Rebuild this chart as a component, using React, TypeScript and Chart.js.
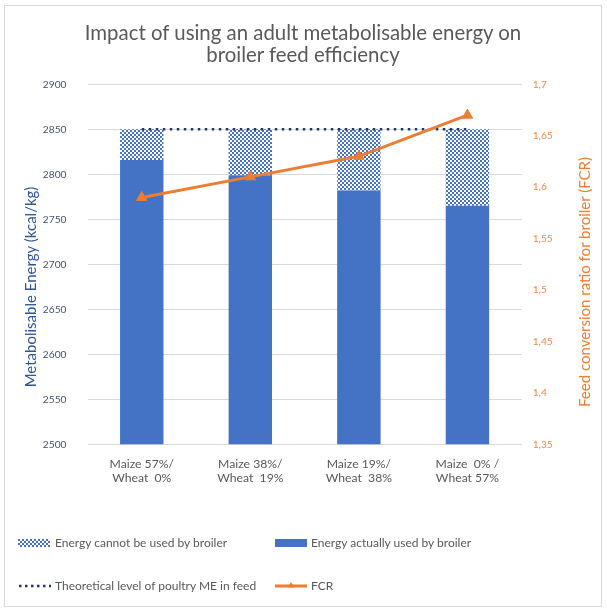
import React, { useEffect, useRef } from "react";
import { Chart, registerables } from "chart.js";

Chart.register(...registerables);

const categories = [
  ["Maize 57%/", "Wheat  0%"],
  ["Maize 38%/", "Wheat  19%"],
  ["Maize 19%/", "Wheat  38%"],
  ["Maize  0% /", "Wheat 57%"],
];
const energyUsed = [2816, 2799, 2782, 2765];
const energyLost = [34, 51, 68, 85];
const theoreticalME = [2850, 2850, 2850, 2850];
const fcr = [1.59, 1.61, 1.63, 1.67];

const titleLines = ["Impact of using an adult metabolisable energy on", "broiler feed efficiency"];
const leftAxisTitle = "Metabolisable Energy (kcal/kg)";
const rightAxisTitle = "Feed conversion ratio for broiler (FCR)";
const legendLabels = [
  "Energy cannot be used by broiler",
  "Energy actually used by broiler",
  "Theoretical level of poultry ME in feed",
  "FCR",
];

const FONT = "Lato, 'Noto Sans', sans-serif";
const BLUE = "#4472C4";
const ORANGE = "#ED7D31";
const NAVY = "#203864";
const GREY_TEXT = "#595959";

function makePattern(): CanvasPattern | string {
  const c = document.createElement("canvas");
  c.width = 4;
  c.height = 4;
  const ctx = c.getContext("2d");
  if (!ctx) return "#9fb3d9";
  ctx.fillStyle = "#ffffff";
  ctx.fillRect(0, 0, 4, 4);
  ctx.fillStyle = BLUE;
  ctx.fillRect(0, 0, 2, 2);
  ctx.fillRect(2, 2, 2, 2);
  const p = ctx.createPattern(c, "repeat");
  return p || "#9fb3d9";
}

export default function App() {
  const ref = useRef<HTMLCanvasElement | null>(null);

  useEffect(() => {
    if (!ref.current) return;
    Chart.defaults.font.family = FONT;
    const pattern = makePattern();
    const chart = new Chart(ref.current, {
      type: "bar",
      data: {
        labels: categories,
        datasets: [
          {
            type: "bar",
            label: legendLabels[1],
            data: energyUsed,
            backgroundColor: BLUE,
            yAxisID: "y",
            stack: "energy",
            order: 2,
            categoryPercentage: 1,
            barPercentage: 0.4,
          },
          {
            type: "bar",
            label: legendLabels[0],
            data: energyLost,
            backgroundColor: pattern as any,
            yAxisID: "y",
            stack: "energy",
            order: 2,
            categoryPercentage: 1,
            barPercentage: 0.4,
          },
          {
            type: "line",
            label: legendLabels[2],
            data: theoreticalME,
            borderColor: NAVY,
            borderWidth: 2.5,
            borderDash: [2.5, 4.5],
            pointRadius: 0,
            yAxisID: "y",
            stack: "theory",
            order: 1,
          } as any,
          {
            type: "line",
            label: legendLabels[3],
            data: fcr,
            borderColor: ORANGE,
            backgroundColor: ORANGE,
            borderWidth: 3,
            pointStyle: "triangle",
            pointRadius: 6,
            pointBorderWidth: 1,
            yAxisID: "y1",
            order: 0,
          } as any,
        ],
      },
      options: {
        animation: false,
        responsive: false,
        maintainAspectRatio: false,
        layout: { padding: { top: 84.3, left: 0, right: 0, bottom: 0 } },
        plugins: {
          legend: { display: false },
          tooltip: { enabled: false },
          title: { display: false },
        },
        scales: {
          x: {
            stacked: true,
            offset: true,
            grid: { display: false },
            border: { display: false },
            ticks: {
              color: GREY_TEXT,
              font: { size: 12.2, family: FONT },
              padding: 4,
              maxRotation: 0,
              autoSkip: false,
            },
            afterFit: (s: any) => {
              s.height = 611 - 444.3;
            },
          },
          y: {
            position: "left",
            stacked: true,
            min: 2500,
            max: 2900,
            border: { display: false },
            grid: { color: "#D9D9D9", drawTicks: false, lineWidth: 1 },
            ticks: {
              stepSize: 50,
              color: "#44546A",
              font: { size: 10.2, family: FONT },
              padding: 21,
              callback: (v: any) => String(v),
            },
            afterFit: (s: any) => {
              s.width = 87.5;
            },
          },
          y1: {
            position: "right",
            stacked: false,
            min: 1.35,
            max: 1.7,
            border: { display: false },
            grid: { display: false, drawTicks: false },
            ticks: {
              stepSize: 0.05,
              color: "#E8894A",
              font: { size: 10.2, family: FONT },
              padding: 11,
              callback: (v: any) => String(Number(Number(v).toFixed(2))).replace(".", ","),
            },
            afterFit: (s: any) => {
              s.width = 607 - 521.7;
            },
          },
        },
      } as any,
    });
    return () => chart.destroy();
  }, []);

  const legendText: React.CSSProperties = {
    position: "absolute",
    fontFamily: FONT,
    fontSize: 12,
    color: GREY_TEXT,
    lineHeight: "16px",
    whiteSpace: "pre",
  };

  const axisTitle = (cx: number, cy: number, color: string, text: string) => (
    <div
      style={{
        position: "absolute",
        left: cx,
        top: cy,
        transform: "translate(-50%, -50%) rotate(-90deg)",
        whiteSpace: "nowrap",
        fontFamily: FONT,
        fontSize: 15,
        lineHeight: "18px",
        color,
      }}
    >
      {text}
    </div>
  );

  return (
    <div
      style={{
        position: "absolute",
        left: 0,
        top: 0,
        width: 607,
        height: 611,
        background: "#ffffff",
        overflow: "hidden",
      }}
    >
      <div
        style={{
          position: "absolute",
          left: 4,
          top: 5,
          width: 596,
          height: 600,
          border: "1px solid #D9D9D9",
        }}
      />
      <canvas ref={ref} width={607} height={611} style={{ position: "absolute", left: 0, top: 0, width: 607, height: 611 }} />
      <div
        style={{
          position: "absolute",
          left: 4,
          width: 598,
          top: 21,
          textAlign: "center",
          fontFamily: FONT,
          fontSize: 20.4,
          lineHeight: "22px",
          color: GREY_TEXT,
        }}
      >
        <div>{titleLines[0]}</div>
        <div>{titleLines[1]}</div>
      </div>

      {axisTitle(30, 287, "#2F5597", leftAxisTitle)}
      {axisTitle(584, 282, ORANGE, rightAxisTitle)}

      {/* legend row 1 */}
      <svg style={{ position: "absolute", left: 18, top: 539 }} width={32} height={8}>
        <defs>
          <pattern id="chk" width="4" height="4" patternUnits="userSpaceOnUse">
            <rect x="0" y="0" width="4" height="4" fill="#ffffff" />
            <rect x="0" y="0" width="2" height="2" fill={BLUE} />
            <rect x="2" y="2" width="2" height="2" fill={BLUE} />
          </pattern>
        </defs>
        <rect x="0" y="0" width="32" height="8" fill="url(#chk)" />
      </svg>
      <div style={{ ...legendText, left: 55, top: 535 }}>{legendLabels[0]}</div>
      <div style={{ position: "absolute", left: 275, top: 539, width: 32, height: 8, background: BLUE }} />
      <div style={{ ...legendText, left: 311, top: 535 }}>{legendLabels[1]}</div>

      {/* legend row 2 */}
      <svg style={{ position: "absolute", left: 18, top: 582 }} width={34} height={8}>
        <line x1="1" y1="4" x2="33" y2="4" stroke={NAVY} strokeWidth={2.5} strokeDasharray="2.5 3.5" />
      </svg>
      <div style={{ ...legendText, left: 55, top: 578 }}>{legendLabels[2]}</div>
      <svg style={{ position: "absolute", left: 275, top: 579 }} width={32} height={12}>
        <line x1="0" y1="7" x2="32" y2="7" stroke={ORANGE} strokeWidth={3} />
        <polygon points="16,3 19.5,8.5 12.5,8.5" fill={ORANGE} />
      </svg>
      <div style={{ ...legendText, left: 311, top: 578 }}>{legendLabels[3]}</div>
    </div>
  );
}
